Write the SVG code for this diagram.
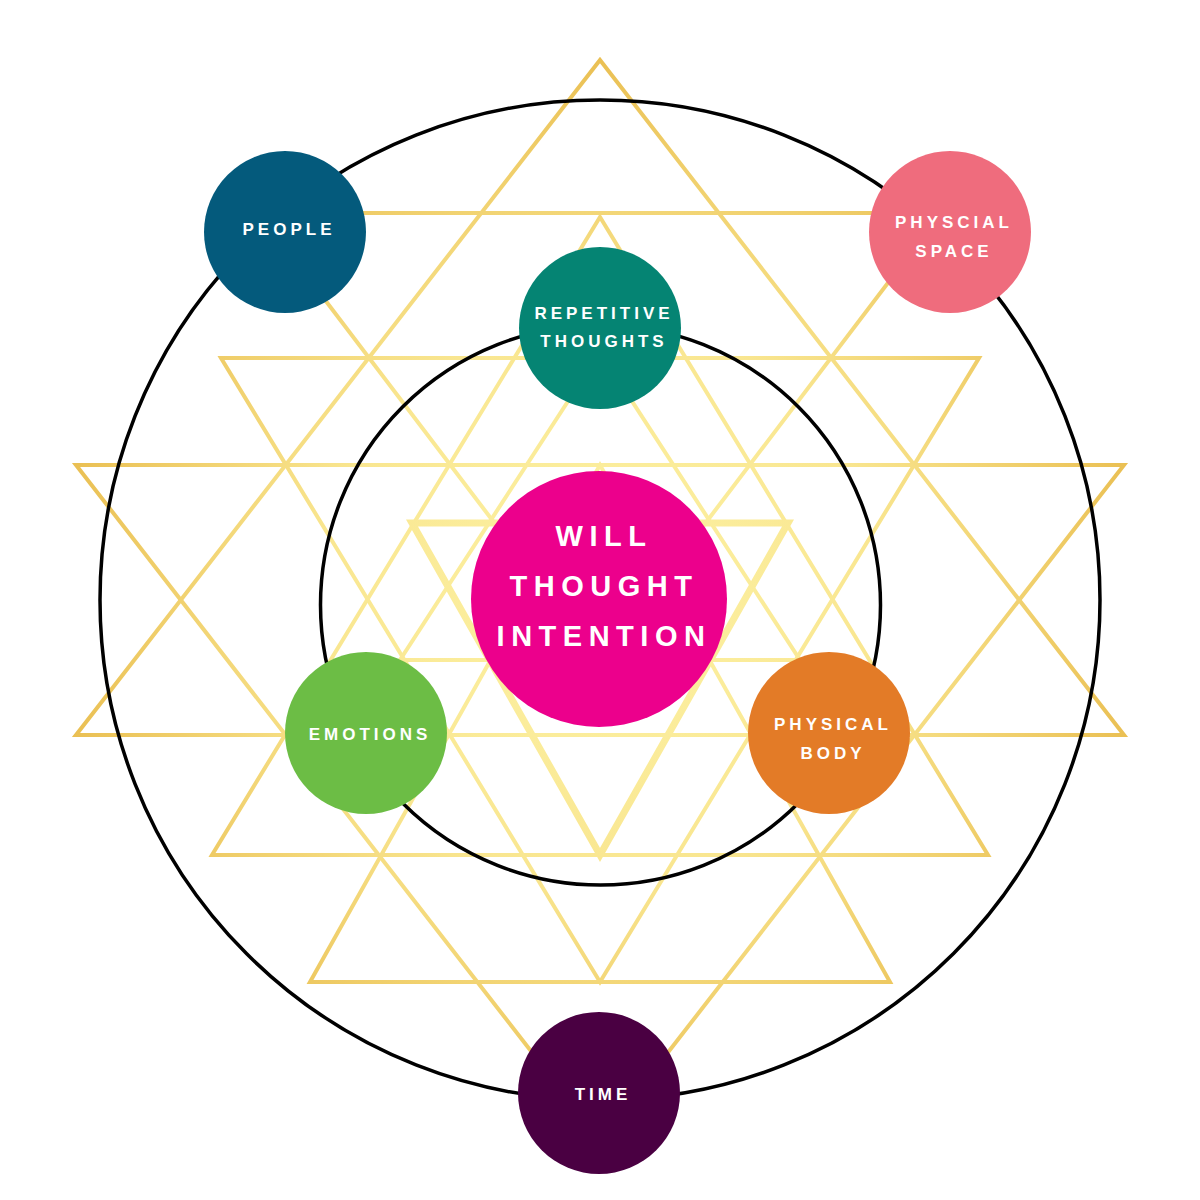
<svg xmlns="http://www.w3.org/2000/svg" width="1200" height="1200" viewBox="0 0 1200 1200">
<defs>
<radialGradient id="gold" gradientUnits="userSpaceOnUse" cx="600" cy="600" r="560">
<stop offset="0" stop-color="#fdf3a6"/>
<stop offset="0.5" stop-color="#f9e690"/>
<stop offset="1" stop-color="#e9bd4f"/>
</radialGradient>
<style>
.tri{fill:none;stroke:url(#gold);stroke-width:4;stroke-linejoin:miter}
.thick{stroke-width:7}
.ring{fill:none;stroke:#000;stroke-width:3.5}
.lbl{font-family:"Liberation Sans",Arial,sans-serif;font-weight:bold;fill:#fff;text-anchor:middle;font-size:17px;letter-spacing:4px}
.big{font-size:29px;letter-spacing:6.5px}
</style>
</defs>
<rect width="1200" height="1200" fill="#fff"/>
<g id="yantra">
<polygon class="tri" points="600,60 76,735 1124,735"/>
<polygon class="tri" points="76,465 1124,465 600,1140"/>
<polygon class="tri" points="600,217 212,855 988,855"/>
<polygon class="tri" points="221,358 979,358 600,982"/>
<polygon class="tri" points="600,465 310,982 890,982"/>
<polygon class="tri" points="259,213 941,213 600,662"/>
<polygon class="tri" points="600,352 400,660 800,660"/>
<polygon class="tri thick" points="412,523 788,523 600,855"/>
</g>
<g id="connectors">
<circle class="ring" cx="600" cy="600" r="500"/>
<circle class="ring" cx="600.5" cy="605" r="280"/>
</g>
<g id="people"><circle cx="285" cy="232" r="81" fill="#045a7c"/><text class="lbl" x="289" y="235">PEOPLE</text></g>
<g id="physical-space"><circle cx="950" cy="232" r="81" fill="#ef6c7d"/><text class="lbl" x="954" y="228">PHYSCIAL</text><text class="lbl" x="954" y="257">SPACE</text></g>
<g id="repetitive-thoughts"><circle cx="600" cy="328" r="81" fill="#058473"/><text class="lbl" x="604" y="319">REPETITIVE</text><text class="lbl" x="604" y="347">THOUGHTS</text></g>
<g id="will"><circle cx="599" cy="599" r="128" fill="#ec008c"/><text class="lbl big" x="604" y="546">WILL</text><text class="lbl big" x="604" y="596">THOUGHT</text><text class="lbl big" x="604" y="646">INTENTION</text></g>
<g id="emotions"><circle cx="366" cy="733" r="81" fill="#6cbd45"/><text class="lbl" x="370" y="740">EMOTIONS</text></g>
<g id="physical-body"><circle cx="829" cy="733" r="81" fill="#e37b27"/><text class="lbl" x="833" y="730">PHYSICAL</text><text class="lbl" x="833" y="759">BODY</text></g>
<g id="time"><circle cx="599" cy="1093" r="81" fill="#4a0042"/><text class="lbl" x="603" y="1100">TIME</text></g>
</svg>
